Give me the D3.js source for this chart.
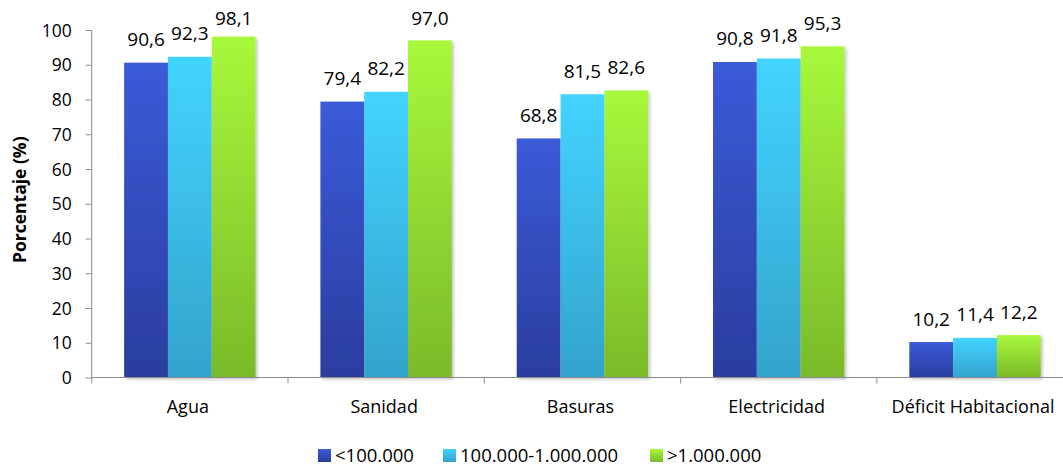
<!DOCTYPE html>
<html><head><meta charset="utf-8">
<script src="https://cdn.jsdelivr.net/npm/d3@7"></script>
<style>body{margin:0;background:#fff}svg{display:block}text{font-family:"Open Sans","Liberation Sans",Arial,sans-serif;fill:#000}</style>
</head><body><svg id="c" width="1063" height="468"></svg>
<script>
const categories = ["Agua","Sanidad","Basuras","Electricidad","Déficit Habitacional"];
const seriesNames = ["<100.000","100.000-1.000.000",">1.000.000"];
const small = [90.6,79.4,68.8,90.8,10.2];
const medium = [92.3,82.2,81.5,91.8,11.4];
const large = [98.1,97.0,82.6,95.3,12.2];
const yTicks = [0,10,20,30,40,50,60,70,80,90,100];
const series = [small, medium, large];
const grads = [["#3b5bd8","#2a3d9e"],["#42d4ff","#33a3cb"],["#a8f83b","#7aba2a"]];

const svg = d3.select("#c");
const defs = svg.append("defs");
grads.forEach((g,i)=>{
  const lg = defs.append("linearGradient").attr("id","g"+i).attr("x1",0).attr("y1",0).attr("x2",0).attr("y2",1);
  lg.append("stop").attr("offset","0%").attr("stop-color",g[0]);
  lg.append("stop").attr("offset","100%").attr("stop-color",g[1]);
});
const f = defs.append("filter").attr("id","sh").attr("x","-20%").attr("y","-5%").attr("width","140%").attr("height","115%");
f.append("feDropShadow").attr("dx",2).attr("dy",2).attr("stdDeviation",1.5).attr("flood-color","#000").attr("flood-opacity",0.22);

const x0 = 91.7, catW = 196.3;
const x = d3.scaleBand().domain(categories).range([x0, x0 + catW*categories.length]).paddingInner(0).paddingOuter(0);
const xs = d3.scaleBand().domain(d3.range(3)).range([0, catW]).paddingInner(0).paddingOuter(0.74);
const y = d3.scaleLinear().domain([0,100]).range([377.5,30]);

// bars
series.forEach((s,si)=>{
  svg.append("g").selectAll("rect").data(s).join("rect")
    .attr("x",(d,i)=>x(categories[i])+xs(si))
    .attr("y",d=>y(d))
    .attr("width",xs.bandwidth())
    .attr("height",d=>y(0)-y(d))
    .attr("fill","url(#g"+si+")")
    .attr("filter","url(#sh)");
  svg.append("g").selectAll("text").data(s).join("text")
    .attr("x",(d,i)=>x(categories[i])+xs(si)+xs.bandwidth()/2)
    .attr("y",d=>Math.max(y(d)-16.5, 25))
    .attr("text-anchor","middle")
    .style("font-size","19px")
    .text(d=>d.toFixed(1).replace(".",","));
});

// y axis
const ya = svg.append("g").attr("transform",`translate(${x0},0)`)
  .call(d3.axisLeft(y).tickValues(yTicks).tickSize(6).tickPadding(14).tickSizeOuter(0));
ya.select(".domain").attr("stroke","#8c8c8c").attr("d",`M0,${y(100)}V${y(0)+6}`);
ya.selectAll(".tick line").attr("stroke","#8c8c8c");
ya.selectAll(".tick text").style("font-size","17.5px").attr("dy","0.35em");

// x axis
const xa = svg.append("g").attr("transform",`translate(0,${y(0)})`);
xa.append("line").attr("x1",x0).attr("x2",1063).attr("y1",0).attr("y2",0).attr("stroke","#8c8c8c");
xa.selectAll("line.t").data(categories.slice(1)).join("line").attr("class","t")
  .attr("x1",d=>x(d)).attr("x2",d=>x(d)).attr("y1",0).attr("y2",6).attr("stroke","#8c8c8c");
xa.selectAll("text").data(categories).join("text")
  .attr("x",d=>x(d)+catW/2-2).attr("y",35).attr("text-anchor","middle")
  .style("font-size","18px").text(d=>d);

// y title
svg.append("text").attr("transform",`translate(26,${y(50)-4}) rotate(-90)`)
  .attr("text-anchor","middle").style("font-size","17.5px").style("font-weight","bold")
  .text("Porcentaje (%)");

// legend
const legX = [318,443,650];
const lg = svg.append("g");
seriesNames.forEach((n,i)=>{
  lg.append("rect").attr("x",legX[i]).attr("y",449).attr("width",13).attr("height",13).attr("fill","url(#g"+i+")");
  lg.append("text").attr("x",legX[i]+17).attr("y",462).style("font-size","18.5px").text(n);
});
</script></body></html>
